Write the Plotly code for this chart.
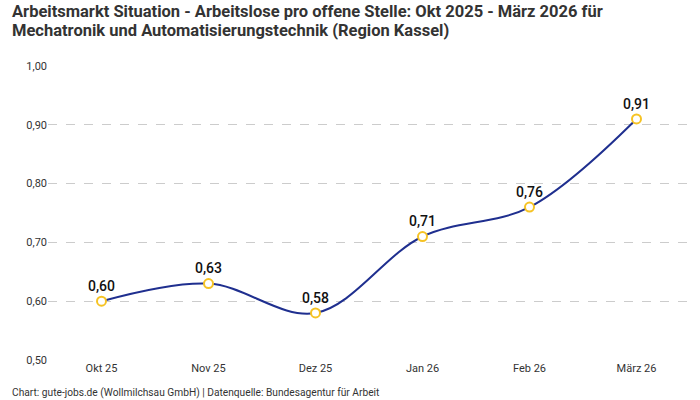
import plotly.graph_objects as go

months = ["Okt 25", "Nov 25", "Dez 25", "Jan 26", "Feb 26", "März 26"]
values = [0.60, 0.63, 0.58, 0.71, 0.76, 0.91]
labels = ["0,60", "0,63", "0,58", "0,71", "0,76", "0,91"]
y_ticks = [0.5, 0.6, 0.7, 0.8, 0.9, 1.0]

title_1 = "Arbeitsmarkt Situation - Arbeitslose pro offene Stelle: Okt 2025 - März 2026 für"
title_2 = "Mechatronik und Automatisierungstechnik (Region Kassel)"
source = "Chart: gute-jobs.de (Wollmilchsau GmbH) | Datenquelle: Bundesagentur für Arbeit"

fig = go.Figure()
fig.add_trace(go.Scatter(
    x=months, y=values, mode="lines+markers+text",
    text=labels, textposition="top center",
    textfont=dict(family="Roboto", size=14, color="#111111", weight=500),
    line=dict(color="#1f2f8f", width=2, shape="spline", smoothing=1.0),
    marker=dict(size=9, color="white", line=dict(color="#f6c324", width=2)),
    cliponaxis=False, hoverinfo="skip",
))

title_font = dict(family="Roboto", size=16.5, color="#333333", weight="bold")
fig.update_layout(
    width=700, height=400,
    margin=dict(l=48, r=10, t=66, b=40),
    paper_bgcolor="white", plot_bgcolor="white",
    separators=",.",
    showlegend=False,
    font=dict(family="Roboto", color="#333333"),
    xaxis=dict(type="category", range=[-0.5, 5.5], showgrid=False, zeroline=False,
               showline=False, ticks="", tickfont=dict(size=11, color="#333333")),
    yaxis=dict(range=[0.5, 1.0], tickvals=y_ticks, tickformat=".2f",
               showgrid=True, gridcolor="#cccccc", griddash="dash", gridwidth=1,
               zeroline=False, showline=False, ticks="",
               tickfont=dict(size=11, color="#333333")),
    annotations=[
        dict(text=title_1, xref="paper", yref="paper", x=-0.0592, y=1.224,
             xanchor="left", yanchor="top", align="left", showarrow=False, font=title_font),
        dict(text=title_2, xref="paper", yref="paper", x=-0.0592, y=1.224 - 19 / 294,
             xanchor="left", yanchor="top", align="left", showarrow=False, font=title_font),
        dict(text=source, xref="paper", yref="paper", x=-0.0592, y=-0.1122,
             xanchor="left", yanchor="middle", showarrow=False,
             font=dict(size=10.2, color="#333333")),
    ],
)

fig.write_html("out.html", config={"displayModeBar": False},
               post_script="document.body.style.margin='0px';")
